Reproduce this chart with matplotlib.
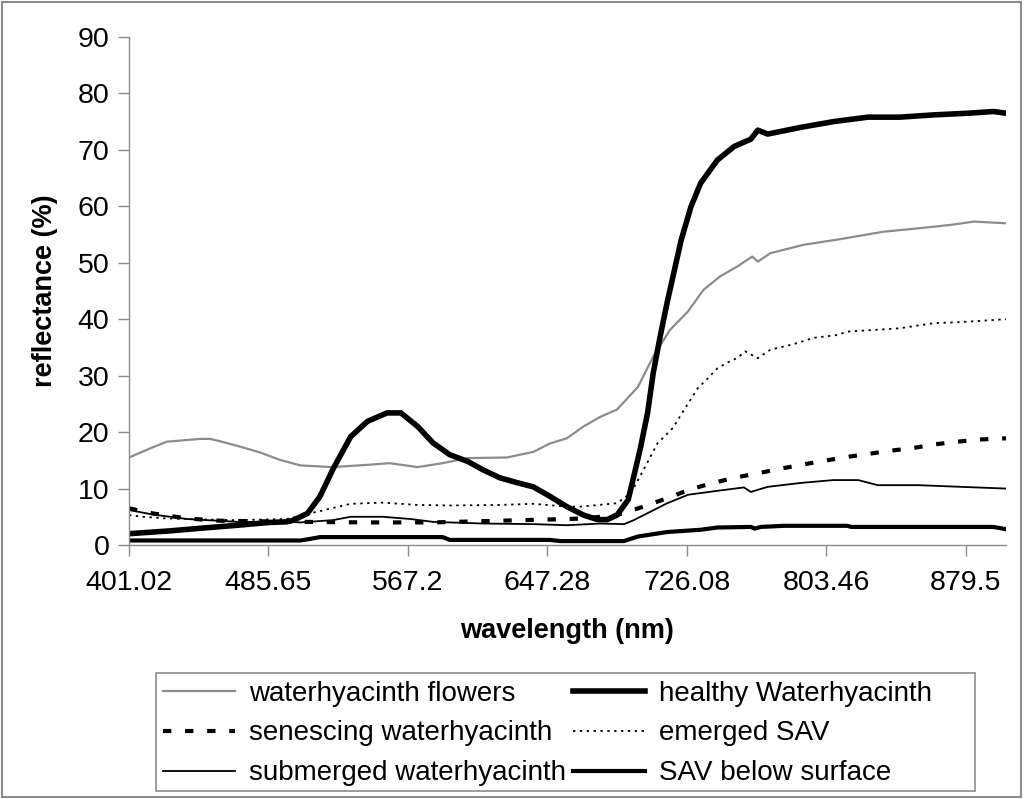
import numpy as np
import matplotlib
matplotlib.use("Agg")
import matplotlib.pyplot as plt
from matplotlib.patches import Rectangle

plt.rcParams['font.family'] = ['Liberation Sans', 'DejaVu Sans']

# x is band index along the category axis, tick label every 100 bands
tick_pos = [0, 100, 200, 300, 400, 500, 600]
tick_labels = ["401.02", "485.65", "567.2", "647.28", "726.08", "803.46", "879.5"]

flowers_x = [0, 15, 27, 51, 58, 65, 80, 94, 108, 123, 146, 171, 187, 207, 225, 243, 271, 290,
             302, 314, 326, 338, 350, 365, 376, 388, 401, 412, 424, 436, 447, 451, 460, 484,
             508, 541, 566, 589, 606, 629]
flowers_y = [15.5, 17.1, 18.3, 18.8, 18.8, 18.4, 17.4, 16.4, 15.1, 14.1, 13.8, 14.2, 14.5, 13.8,
             14.5, 15.4, 15.5, 16.5, 18.0, 18.9, 21.0, 22.7, 24.0, 28.0, 33.4, 38.1, 41.4, 45.2,
             47.6, 49.3, 51.1, 50.2, 51.7, 53.2, 54.1, 55.5, 56.1, 56.7, 57.3, 57.0]

healthy_x = [0, 29, 53, 78, 101, 113, 118, 128, 137, 146, 159, 171, 185, 195, 207, 218, 230,
             243, 254, 266, 279, 290, 302, 314, 326, 336, 343, 350, 358, 362, 367, 372, 376,
             381, 386, 396, 403, 410, 422, 434, 446, 451, 458, 482, 505, 530, 553, 577, 602,
             620, 629]
healthy_y = [2.0, 2.5, 3.0, 3.5, 4.0, 4.1, 4.4, 5.6, 8.6, 13.3, 19.2, 21.9, 23.4, 23.4, 21.0,
             18.1, 16.0, 14.8, 13.3, 11.9, 11.0, 10.3, 8.6, 6.8, 5.3, 4.5, 4.5, 5.3, 8.0, 12.1,
             17.4, 23.5, 30.5, 37.0, 43.0, 54.0, 59.9, 64.1, 68.2, 70.6, 71.9, 73.5, 72.8,
             74.0, 75.0, 75.8, 75.8, 76.2, 76.5, 76.8, 76.5]

senescing_x = [0, 17, 42, 65, 123, 171, 218, 266, 314, 326, 350, 369, 386, 403, 419, 434, 451,
               467, 482, 498, 515, 532, 546, 563, 577, 594, 611, 629]
senescing_y = [6.5, 5.6, 4.7, 4.3, 4.1, 4.0, 4.0, 4.3, 4.6, 4.7, 5.3, 6.8, 8.3, 9.9, 11.0, 11.9,
               12.7, 13.5, 14.2, 14.9, 15.6, 16.2, 16.7, 17.2, 17.8, 18.3, 18.7, 18.9]

emerged_x = [0, 10, 27, 75, 113, 135, 159, 182, 207, 230, 266, 290, 314, 324, 350, 360, 369,
             379, 390, 398, 408, 415, 422, 429, 436, 442, 451, 460, 477, 491, 508, 515, 553,
             577, 597, 629]
emerged_y = [5.3, 5.0, 4.7, 4.4, 4.6, 5.9, 7.3, 7.5, 7.1, 7.0, 7.1, 7.3, 6.8, 6.8, 7.4, 9.2,
             13.3, 18.0, 20.7, 23.9, 27.8, 29.5, 31.3, 32.3, 33.1, 34.3, 33.1, 34.6, 35.6,
             36.7, 37.2, 37.8, 38.4, 39.3, 39.5, 40.0]

submerged_x = [0, 17, 42, 78, 113, 123, 146, 159, 182, 202, 218, 254, 290, 314, 338, 355, 362,
               374, 386, 401, 422, 441, 446, 458, 482, 505, 523, 537, 566, 597, 629]
submerged_y = [6.2, 5.4, 4.6, 4.1, 4.1, 4.0, 4.4, 5.0, 5.0, 4.6, 4.1, 3.8, 3.7, 3.5, 3.8, 3.7,
               4.4, 5.9, 7.4, 8.9, 9.6, 10.2, 9.4, 10.3, 11.0, 11.5, 11.5, 10.6, 10.6, 10.3, 10.0]

below_x = [0, 123, 128, 137, 151, 225, 230, 302, 309, 355, 365, 386, 410, 422, 446, 449, 453,
           470, 515, 518, 620, 629]
below_y = [0.8, 0.8, 1.0, 1.4, 1.4, 1.4, 0.9, 0.9, 0.7, 0.7, 1.5, 2.3, 2.7, 3.1, 3.2, 2.9, 3.2,
           3.4, 3.4, 3.2, 3.2, 2.8]

fig = plt.figure(figsize=(10.24, 7.99), dpi=100)
ax = fig.add_axes([129 / 1024, 1 - 545 / 799, 877 / 1024, 508 / 799])

l1, = ax.plot(flowers_x, flowers_y, color="#8c8c8c", lw=1.6, label="waterhyacinth flowers")
l2, = ax.plot(healthy_x, healthy_y, color="black", lw=4, label="healthy Waterhyacinth")
l3, = ax.plot(senescing_x, senescing_y, color="black", lw=3, dashes=(2, 3.3),
              label="senescing waterhyacinth")
l4, = ax.plot(emerged_x, emerged_y, color="black", lw=1.3, dashes=(1.3, 2.5),
              label="emerged SAV")
l5, = ax.plot(submerged_x, submerged_y, color="black", lw=1.3, label="submerged waterhyacinth")
l6, = ax.plot(below_x, below_y, color="black", lw=3, label="SAV below surface")

ax.set_xlim(0, 629)
ax.set_ylim(0, 90)
ax.set_yticks(range(0, 91, 10))
ax.set_xticks(tick_pos)
ax.set_xticklabels(tick_labels)
ax.tick_params(axis="both", direction="out", length=8, width=1, color="#8c8c8c",
               labelsize=20.5, pad=6)
ax.tick_params(axis="x", pad=10)
for s in ["top", "right"]:
    ax.spines[s].set_visible(False)
for s in ["left", "bottom"]:
    ax.spines[s].set_color("#8c8c8c")
    ax.spines[s].set_linewidth(1)

ax.set_xlabel("wavelength (nm)", fontsize=19.5, fontweight="bold", labelpad=16)
ax.set_ylabel("reflectance (%)", fontsize=19.5, fontweight="bold", labelpad=14)

handles = [l1, l3, l5, l2, l4, l6]
leg = fig.legend(handles, [h.get_label() for h in handles], ncol=2, frameon=False,
                 loc="upper left", bbox_to_anchor=(157 / 1024, 1 - 675 / 799),
                 borderaxespad=0, borderpad=0.2, fontsize=20, handlelength=2.6,
                 handletextpad=0.5, columnspacing=0.25, labelspacing=0.5)

# legend box and outer frame
fig.patches.append(Rectangle((156 / 1024, 1 - 791 / 799), 819 / 1024, 118 / 799,
                             transform=fig.transFigure, fill=False, edgecolor="#8c8c8c",
                             lw=1.2))
fig.patches.append(Rectangle((2 / 1024, 2 / 799), 1019 / 1024, 795 / 799,
                             transform=fig.transFigure, fill=False, edgecolor="#8c8c8c",
                             lw=1.5))

fig.savefig("out.png", dpi=100)
